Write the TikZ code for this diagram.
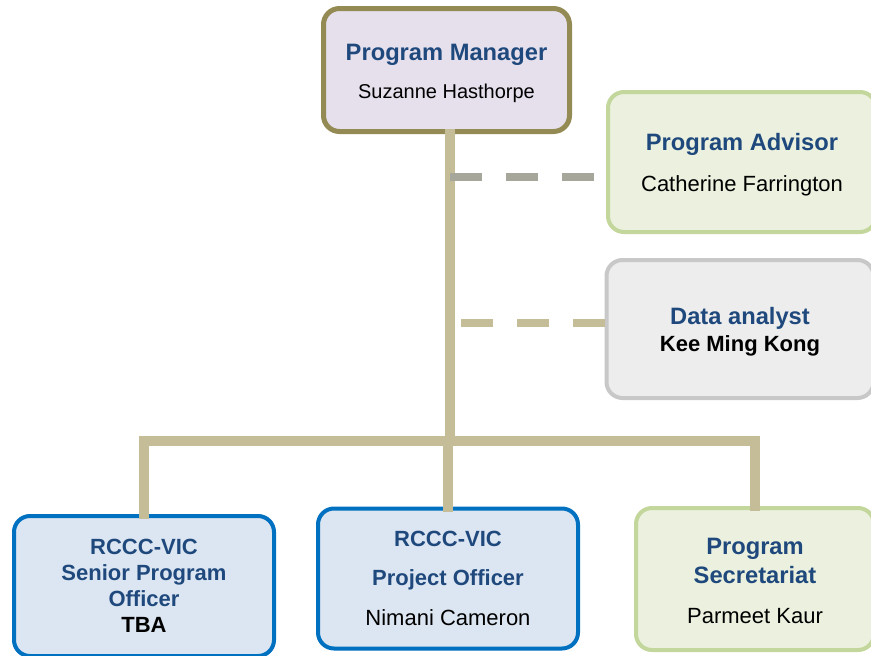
\documentclass[tikz,border=0pt]{standalone}
\usepackage{fontspec}
\setmainfont{Liberation Sans}
\usetikzlibrary{calc}
\definecolor{olive1}{RGB}{148,138,84}
\definecolor{lavender1}{RGB}{229,224,236}
\definecolor{tan1}{RGB}{196,189,151}
\definecolor{grey1}{RGB}{166,166,155}
\definecolor{green1}{RGB}{235,241,222}
\definecolor{green2}{RGB}{195,214,155}
\definecolor{grey2}{RGB}{237,237,237}
\definecolor{grey3}{RGB}{200,200,200}
\definecolor{blue1}{RGB}{220,230,242}
\definecolor{blue2}{RGB}{0,112,192}
\definecolor{titleblue}{RGB}{31,73,125}
\newcommand{\roletitle}[1]{{\color{titleblue}\fontsize{23.7}{24}\selectfont\bfseries #1}}
\newcommand{\smalltitle}[1]{{\color{titleblue}\bfseries #1}}
\newcommand{\topstrut}[1]{\rule{0pt}{#1}}
\tikzset{
  box/.style={rectangle, rounded corners=16pt, align=center, font=\fontsize{22}{24}\selectfont},
  mgrbox/.style={box, draw=olive1, fill=lavender1, line width=5pt, minimum width=246pt, minimum height=123pt},
  advbox/.style={box, draw=green2, fill=green1, minimum width=268pt, minimum height=140pt},
  databox/.style={box, draw=grey3, fill=grey2, minimum width=267pt, minimum height=138pt},
  bluebox/.style={box, draw=blue2, fill=blue1, minimum width=260pt, minimum height=140pt},
  secbox/.style={box, draw=green2, fill=green1, minimum width=238pt, minimum height=142pt},
  link/.style={draw=tan1, line width=10pt, line cap=rect},
  dashlink/.style={line width=7.5pt, dash pattern=on 32pt off 24pt}
}
\begin{document}
\begin{tikzpicture}[x=1pt, y=-1pt, line width=4pt]
  \clip (0,0) rectangle (871,656);
  \fill[white] (0,0) rectangle (871,656);

  \node[mgrbox] (mgr) at (446.5,70) {\topstrut{23.4pt}\roletitle{Program Manager}\\[14.5pt]{\fontsize{20}{24}\selectfont Suzanne Hasthorpe}};
  \node[advbox] (adv) at (742,162) {\topstrut{23.4pt}\roletitle{Program Advisor}\\[17pt]Catherine Farrington};
  \node[databox] (data) at (740,329) {\topstrut{23.4pt}\roletitle{Data analyst}\\[3pt]\textbf{Kee Ming Kong}};

  \node[bluebox] (sen) at (144,586) {\smalltitle{RCCC-VIC}\\[2.3pt]\smalltitle{Senior Program}\\[2.3pt]\smalltitle{Officer}\\[2pt]\textbf{TBA}};
  \node[bluebox] (proj) at (448,578.5) {\smalltitle{RCCC-VIC}\\[14.5pt]\smalltitle{Project Officer}\\[16pt]Nimani Cameron};
  \node[secbox] (sec) at (755,579) {\topstrut{19.4pt}\roletitle{Program}\\[5pt]\roletitle{Secretariat}\\[16pt]Parmeet Kaur};

  \coordinate (hub) at (450,441);
  \coordinate (j1) at (450,177);
  \coordinate (j2) at (450,323);

  \draw[link] (mgr.south -| hub) -- (hub);
  \draw[link] (sen.north |- hub) -- (sec.north |- hub);
  \foreach \to in {sen, proj, sec}
   \draw[link] (\to.north |- hub) -- (\to.north);

  \draw[dashlink, grey1, dash phase=44pt] (adv.west |- j1) -- (j1);
  \draw[dashlink, tan1] (data.west |- j2) -- (j2);
\end{tikzpicture}
\end{document}
